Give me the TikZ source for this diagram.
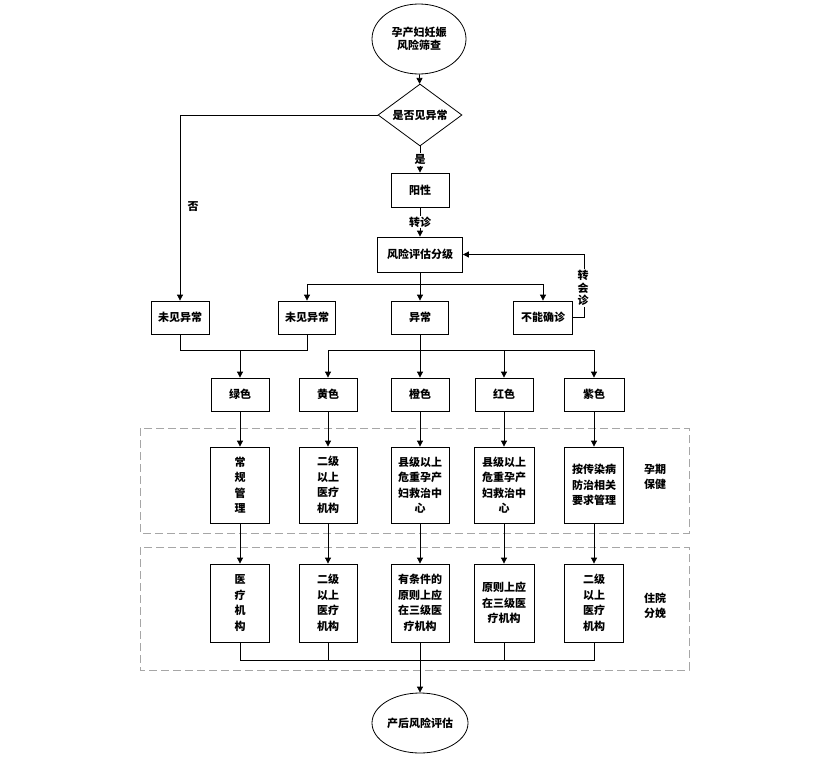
\documentclass[tikz,border=0pt]{standalone}
\usepackage{fontspec}
\newfontfamily\cjk{Noto Sans CJK SC}
\usetikzlibrary{arrows.meta,shapes.geometric}
\begin{document}
\begin{tikzpicture}[x=1pt,y=-1pt,
  txt/.style={font={\cjk\bfseries\fontsize{11}{15.5}\selectfont}, align=center, inner sep=0pt},
  box/.style={txt, draw, fill=white, line width=0.8pt},
  oval/.style={txt, ellipse, draw, fill=white, line width=0.8pt},
  line/.style={line width=0.8pt},
  arr/.style={line, -{Triangle[length=6pt,width=6pt]}},
  lab/.style={txt, fill=white, inner sep=1pt},
  zone/.style={draw=gray!70, dash pattern=on 8pt off 4pt, line width=0.8pt}]
\fill[white] (0,0) rectangle (830,763);
\useasboundingbox (0,0) rectangle (830,763);

% zones
\draw[zone] (140,428) rectangle (689,533);
\draw[zone] (140,547) rectangle (689,670);
\node[txt] (zl1) at (655,477) {孕期\\保健};
\node[txt] (zl2) at (655,606) {住院\\分娩};

% top part
\node[oval, minimum width=94pt, minimum height=70pt] (top) at (419,39) {孕产妇妊娠\\[-2pt]风险筛查};
\node[txt, diamond, draw, fill=white, line width=0.8pt, aspect=1.35, minimum width=84pt, minimum height=62pt] (dia) at (420,115) {是否见异常};
\node[box, minimum width=58pt, minimum height=34pt] (yx) at (420,190) {阳性};
\node[box, minimum width=85pt, minimum height=35pt] (fx) at (420,254.5) {风险评估分级};

\node[box, minimum width=58pt, minimum height=33pt] (n1) at (180,317.5) {未见异常};
\node[box, minimum width=57pt, minimum height=33pt] (n2) at (307,317.5) {未见异常};
\node[box, minimum width=57pt, minimum height=33pt] (n3) at (420,317.5) {异常};
\node[box, minimum width=59pt, minimum height=33pt] (n4) at (543,317.5) {不能确诊};

% colour row
\node[box, minimum width=58pt, minimum height=33pt] (c1) at (240,394.5) {绿色};
\node[box, minimum width=58pt, minimum height=33pt] (c2) at (328,394.5) {黄色};
\node[box, minimum width=58pt, minimum height=33pt] (c3) at (420,394.5) {橙色};
\node[box, minimum width=58pt, minimum height=33pt] (c4) at (504,394.5) {红色};
\node[box, minimum width=60pt, minimum height=33pt] (c5) at (594,394.5) {紫色};

% pregnancy care row
\node[box, minimum width=59pt, minimum height=76pt] (p1) at (240,485) {常\\规\\管\\理};
\node[box, minimum width=58pt, minimum height=76pt] (p2) at (328,485) {二级\\以上\\医疗\\机构};
\node[box, minimum width=58pt, minimum height=76pt] (p3) at (420,485) {县级以上\\危重孕产\\妇救治中\\心};
\node[box, minimum width=60pt, minimum height=76pt] (p4) at (504,485) {县级以上\\危重孕产\\妇救治中\\心};
\node[box, minimum width=59pt, minimum height=76pt] (p5) at (594,485) {按传染病\\防治相关\\要求管理};

% delivery row
\node[box, minimum width=59pt, minimum height=78pt] (q1) at (240,603) {医\\疗\\机\\构};
\node[box, minimum width=58pt, minimum height=78pt] (q2) at (328,603) {二级\\以上\\医疗\\机构};
\node[box, minimum width=58pt, minimum height=78pt] (q3) at (420,603) {有条件的\\原则上应\\在三级医\\疗机构};
\node[box, minimum width=60pt, minimum height=78pt] (q4) at (504,603) {原则上应\\在三级医\\疗机构};
\node[box, minimum width=59pt, minimum height=78pt] (q5) at (594,603) {二级\\以上\\医疗\\机构};

\node[oval, minimum width=96pt, minimum height=60pt] (bot) at (420,723) {产后风险评估};

% connectors
\draw[arr] (top) -- (dia);
\draw[arr] (dia) -- node[lab] (ls) {是} (yx);
\draw[arr] (yx) -- node[lab] (lz) {转诊} (fx);
\draw[arr] (dia.west) -| (n1.north);
\node[txt] (lf) at (193,207) {否};
\draw[arr] (fx) -- (n3);
\coordinate (h) at (0,284);
\draw[line] (n2.north |- h) -- (n4.north |- h);
\draw[arr] (n2.north |- h) -- (n2.north);
\draw[arr] (n4.north |- h) -- (n4.north);
\draw[arr] (n4.east) -- ++(11,0) |- (fx.east);
\node[lab, font={\cjk\bfseries\fontsize{11}{12.5}\selectfont}] (lh) at (583,288) {转\\会\\诊};

\coordinate (j) at (0,350);
\draw[line] (n1.south) |- (c1.north |- j);
\draw[line] (n2.south) |- (c1.north |- j);
\draw[arr] (c1.north |- j) -- (c1.north);
\draw[arr] (n3) -- (c3);
\draw[line] (c2.north |- j) -- (c5.north |- j);
\draw[arr] (c2.north |- j) -- (c2.north);
\draw[arr] (c4.north |- j) -- (c4.north);
\draw[arr] (c5.north |- j) -- (c5.north);

\foreach \i in {1,...,5} {
  \draw[arr] (c\i) -- (p\i);
  \draw[arr] (p\i) -- (q\i);
}

\coordinate (k) at (0,660);
\draw[line] (q1.south) -- (q1.south |- k) -- (q5.south |- k) -- (q5.south);
\draw[line] (q2.south) -- (q2.south |- k);
\draw[line] (q4.south) -- (q4.south |- k);
\draw[arr] (q3) -- (bot);
\end{tikzpicture}
\end{document}
